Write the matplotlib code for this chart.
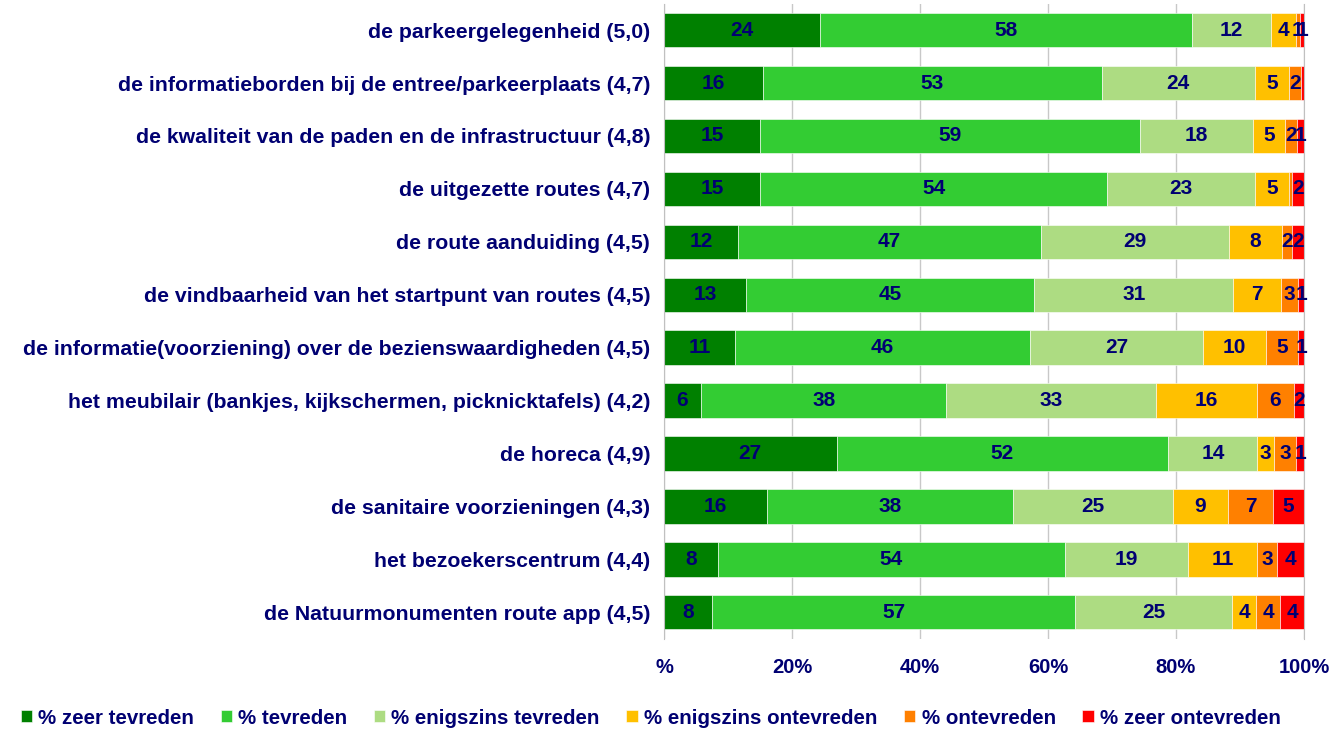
import matplotlib
matplotlib.use("Agg")
import matplotlib.pyplot as plt
import numpy as np

categories = [
    "de parkeergelegenheid (5,0)",
    "de informatieborden bij de entree/parkeerplaats (4,7)",
    "de kwaliteit van de paden en de infrastructuur (4,8)",
    "de uitgezette routes (4,7)",
    "de route aanduiding (4,5)",
    "de vindbaarheid van het startpunt van routes (4,5)",
    "de informatie(voorziening) over de bezienswaardigheden (4,5)",
    "het meubilair (bankjes, kijkschermen, picknicktafels) (4,2)",
    "de horeca (4,9)",
    "de sanitaire voorzieningen (4,3)",
    "het bezoekerscentrum (4,4)",
    "de Natuurmonumenten route app (4,5)",
]
series_names = ["% zeer tevreden", "% tevreden", "% enigszins tevreden",
                "% enigszins ontevreden", "% ontevreden", "% zeer ontevreden"]
zeer_tevreden = [24.4, 15.5, 15.0, 15.0, 11.6, 12.8, 11.1, 5.8, 27.0, 16.1, 8.4, 7.6]
tevreden = [58.3, 52.8, 59.4, 54.2, 47.3, 44.9, 46.1, 38.3, 51.9, 38.4, 54.3, 56.8]
enigszins_tevreden = [12.3, 23.9, 17.6, 23.0, 29.4, 31.1, 27.0, 32.8, 13.9, 25.0, 19.2, 24.7]
enigszins_ontevreden = [3.9, 5.4, 5.0, 5.4, 8.3, 7.4, 9.9, 15.8, 2.6, 8.6, 10.8, 3.7]
ontevreden = [0.7, 1.9, 1.9, 0.4, 1.5, 2.7, 5.0, 5.7, 3.5, 7.1, 3.1, 3.8]
zeer_ontevreden = [0.6, 0.4, 1.1, 1.9, 1.9, 0.9, 0.9, 1.6, 1.2, 4.8, 4.2, 3.7]
tick_values = [0, 20, 40, 60, 80, 100]
tick_labels = ["%", "20%", "40%", "60%", "80%", "100%"]

colors = ["#008000", "#33cc33", "#addc82", "#ffc000", "#ff8000", "#ff0000"]
navy = "#000072"
fs = 15.3

plt.rcParams['font.family'] = ['Liberation Sans', 'DejaVu Sans']

data = np.array([zeer_tevreden, tevreden, enigszins_tevreden,
                 enigszins_ontevreden, ontevreden, zeer_ontevreden])
data = data / data.sum(axis=0) * 100

fig = plt.figure(figsize=(13.36, 7.30), dpi=100)
ax = fig.add_axes([0.497, 0.125, 0.479, 0.870])

y = np.arange(len(categories))
left = np.zeros(len(categories))
for i, name in enumerate(series_names):
    vals = data[i]
    bars = ax.barh(y, vals, left=left, height=0.65, color=colors[i],
                   label=name, edgecolor='white', linewidth=0.4, zorder=2)
    labels = [f"{round(v):d}" if round(v) > 0 else "" for v in vals]
    ax.bar_label(bars, labels=labels, label_type='center', color=navy,
                 fontsize=fs - 0.3, fontweight='bold', zorder=3)
    left += vals

ax.set_xlim(0, 100)
ax.set_ylim(len(categories) - 0.5, -0.5)
ax.set_yticks(y)
ax.set_yticklabels(categories, fontsize=fs, fontweight='bold', color=navy)
ax.set_xticks(tick_values)
ax.set_xticklabels(tick_labels, fontsize=fs - 0.8, fontweight='bold', color=navy)
ax.tick_params(axis='both', length=0, pad=10)
ax.tick_params(axis='x', pad=14)
ax.grid(axis='x', color='#c8c8c8', linewidth=1, zorder=0)
ax.set_axisbelow(True)
for s in ['top', 'bottom']:
    ax.spines[s].set_visible(False)
ax.spines['right'].set_color('#c0c0c0')
ax.spines['left'].set_color('#c0c0c0')

handles, labs = ax.get_legend_handles_labels()
leg = fig.legend(handles, labs, loc='lower center', bbox_to_anchor=(0.487, -0.022),
                 ncol=6, frameon=False, fontsize=fs - 0.5, handlelength=0.55,
                 handleheight=0.55, handletextpad=0.3, columnspacing=1.3)
for t in leg.get_texts():
    t.set_color(navy)
    t.set_fontweight('bold')

fig.savefig("out.png", dpi=100)
